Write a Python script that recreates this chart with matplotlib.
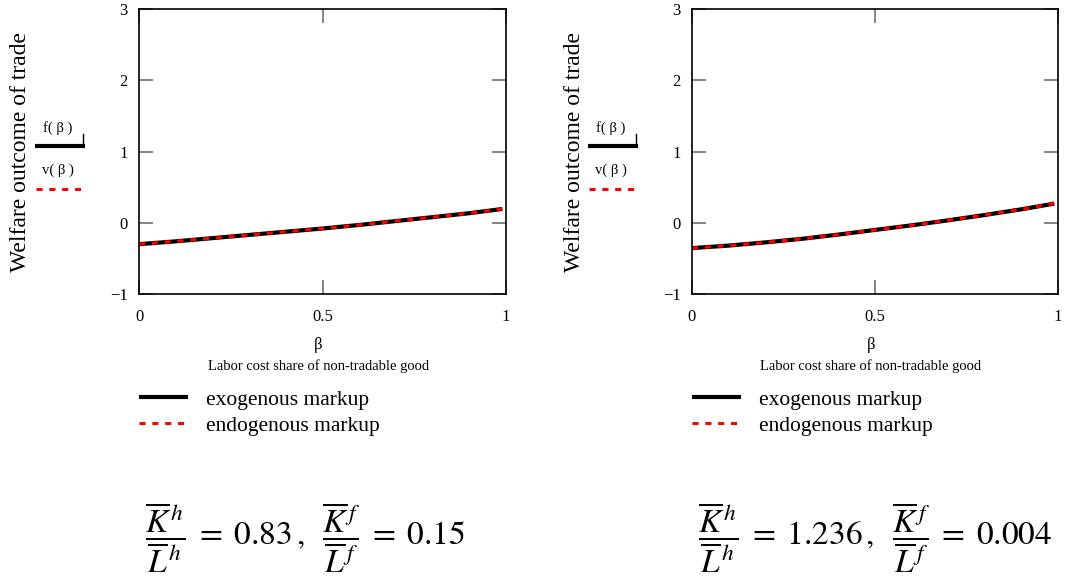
import matplotlib
matplotlib.use("Agg")
import matplotlib.pyplot as plt
from matplotlib.lines import Line2D

plt.rcParams['font.family'] = ['Liberation Serif', 'DejaVu Serif']
plt.rcParams['mathtext.fontset'] = 'stix'

# data
beta = [0.0, 0.1, 0.2, 0.3, 0.4, 0.5, 0.6, 0.7, 0.8, 0.9, 0.99]
left_f = [-0.30, -0.26, -0.215, -0.17, -0.125, -0.08, -0.03, 0.025, 0.08, 0.135, 0.195]
left_v = [-0.30, -0.26, -0.215, -0.17, -0.125, -0.08, -0.03, 0.025, 0.08, 0.135, 0.195]
right_f = [-0.355, -0.32, -0.275, -0.225, -0.165, -0.10, -0.035, 0.035, 0.11, 0.19, 0.27]
right_v = [-0.355, -0.32, -0.275, -0.225, -0.165, -0.10, -0.035, 0.035, 0.11, 0.19, 0.27]
xticks = [0, 0.5, 1]
xticklabels = ['0', '0.5', '1']
yticks = [-1, 0, 1, 2, 3]
yticklabels = ['\u22121', '0', '1', '2', '3']
ylabel = 'Welfare outcome of trade'
xlabel_sym = '\u03b2'
xlabel_txt = 'Labor cost share of non-tradable good'
legend_labels = ['exogenous markup', 'endogenous markup']
ratio_texts = [r'$\dfrac{\overline{K}^{\,h}}{\overline{L}^{\,h}}\;=\;0.83\,,\;\;\dfrac{\overline{K}^{\,f}}{\overline{L}^{\,f}}\;=\;0.15$',
               r'$\dfrac{\overline{K}^{\,h}}{\overline{L}^{\,h}}\;=\;1.236\,,\;\;\dfrac{\overline{K}^{\,f}}{\overline{L}^{\,f}}\;=\;0.004$']

W, H = 1070, 586
fig = plt.figure(figsize=(W / 100, H / 100), dpi=100)

def fx(px):
    return px / W

def fy(py):
    return 1 - py / H

panels = [
    dict(x0=139, x1=506, f=left_f, v=left_v, ratio=ratio_texts[0]),
    dict(x0=692, x1=1058, f=right_f, v=right_v, ratio=ratio_texts[1]),
]
y0, y1 = 9.3, 294

red_dash = (0, (2.0, 2.2))

for p in panels:
    ax = fig.add_axes([fx(p['x0']), fy(y1), fx(p['x1'] - p['x0']), (y1 - y0) / H])
    ax.plot(beta, p['f'], color='black', lw=3.0, solid_capstyle='butt')
    ax.plot(beta, p['v'], color='red', lw=2.2, linestyle=red_dash)
    ax.set_xlim(0, 1)
    ax.set_ylim(-1, 3)
    ax.set_xticks(xticks)
    ax.set_xticklabels(xticklabels)
    ax.set_yticks(yticks)
    ax.set_yticklabels(yticklabels)
    ax.tick_params(direction='in', length=10, width=1.2, color='#707070',
                   top=True, right=True, labelsize=12)
    ax.tick_params(axis='x', pad=11)
    ax.tick_params(axis='y', pad=8)
    for s in ax.spines.values():
        s.set_linewidth(1.2)
        s.set_color('black')

    xl = p['x0']
    xc = (p['x0'] + p['x1']) / 2
    # rotated y label
    fig.text(fx(xl - 118), fy(152), ylabel, rotation=90, ha='center', va='center', fontsize=17)
    # trace legend in y label area
    fig.text(fx(xl - 81), fy(128), 'f( \u03b2 )', ha='center', va='center', fontsize=10.5)
    fig.add_artist(Line2D([fx(xl - 104), fx(xl - 54)], [fy(146), fy(146)], color='black', lw=3.0,
                          solid_capstyle='butt'))
    fig.add_artist(Line2D([fx(xl - 56), fx(xl - 56)], [fy(146), fy(134)], color='black', lw=1.0))
    fig.text(fx(xl - 81), fy(170), 'v( \u03b2 )', ha='center', va='center', fontsize=10.5)
    fig.add_artist(Line2D([fx(xl - 103), fx(xl - 56)], [fy(189), fy(189)], color='red', lw=2.2,
                          linestyle=red_dash))
    # x labels
    fig.text(fx(xc - 4), fy(345), xlabel_sym, ha='center', va='center', fontsize=12)
    fig.text(fx(xc - 4), fy(366), xlabel_txt, ha='center', va='center', fontsize=10.5)
    # bottom legend
    fig.add_artist(Line2D([fx(xl), fx(xl + 49)], [fy(397), fy(397)], color='black', lw=3.0,
                          solid_capstyle='butt'))
    fig.text(fx(xl + 67), fy(401), legend_labels[0], ha='left', va='center', fontsize=15.5)
    fig.add_artist(Line2D([fx(xl), fx(xl + 49)], [fy(423), fy(423)], color='red', lw=2.2,
                          linestyle=red_dash))
    fig.text(fx(xl + 67), fy(427), legend_labels[1], ha='left', va='center', fontsize=15.5)
    # ratio formula
    fig.text(fx(xl + 6), fy(538), p['ratio'], ha='left', va='center', fontsize=24)

fig.savefig('out.png', dpi=100)
